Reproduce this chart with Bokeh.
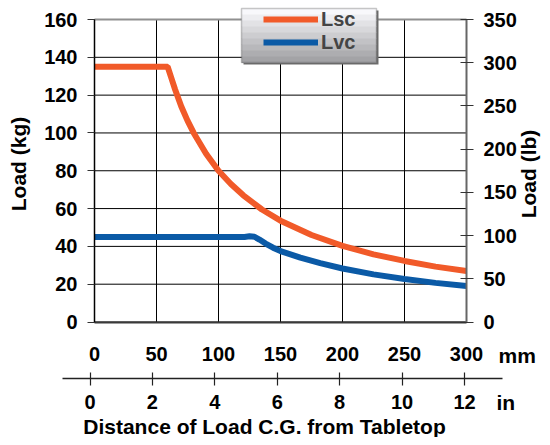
import math
from bokeh.plotting import figure
from bokeh.models import (LinearAxis, Range1d, Legend, LegendItem, Label, BoxAnnotation,
                          FixedTicker)
from bokeh.embed import file_html
from bokeh.resources import INLINE

# ---- data ----
lsc_mm = [0, 59, 62, 65, 70, 75, 80, 90, 100, 110, 120, 135, 150, 175, 200, 225, 250, 275, 300]
lsc_kg = [135, 135, 129, 123, 114, 106.5, 100, 89, 80, 73, 67, 59.5, 53.6, 46, 40.3, 35.8, 32.3, 29.3, 27]
lvc_mm = [0, 121, 125, 129, 133, 138, 144, 150, 166, 182, 200, 225, 250, 275, 300]
lvc_kg = [45, 45, 45.3, 45.1, 43.6, 41.5, 39.3, 37.5, 34.0, 31.1, 28.3, 25.2, 22.7, 20.7, 19.0]
mm_ticks = [0, 50, 100, 150, 200, 250, 300]
kg_ticks = [0, 20, 40, 60, 80, 100, 120, 140, 160]
lb_ticks = [0, 50, 100, 150, 200, 250, 300, 350]
in_ticks = [0, 2, 4, 6, 8, 10, 12]
series_names = ["Lsc", "Lvc"]
series_colors = ["#f15a29", "#0b5aa6"]

FONT = "Liberation Sans"
FS = "20px"
FS_T = "21px"

W, H = 542, 437
# pixel layout of the plot area inside the canvas
PX_L, PX_R, PX_T, PX_B = 94.0, 466.0, 19.0, 321.5
kpx = (PX_B - PX_T) / 160.0      # px per kg
mpx = (PX_R - PX_L) / 300.0      # px per mm
lpx = (PX_B - PX_T) / 350.0      # px per lb
in0, in12 = 89.5, 464.0
ipx = (in12 - in0) / 12.0        # px per inch (drawn scale of the reference)

p = figure(width=W, height=H,
           x_range=Range1d(-PX_L / mpx, (W - PX_L) / mpx),
           y_range=Range1d(-(H - PX_B) / kpx, PX_B / kpx),
           output_backend="svg", toolbar_location=None,
           min_border_left=0, min_border_right=0, min_border_top=0, min_border_bottom=0)
xa = p.below[0]
ya = p.left[0]
p.outline_line_color = None
p.background_fill_color = "white"
p.border_fill_color = "white"
p.grid.visible = False
p.extra_y_ranges = {"lb": Range1d(-(H - PX_B) / lpx, PX_B / lpx)}
p.extra_x_ranges = {"inch": Range1d(-in0 / ipx, (W - in0) / ipx)}

def style_axis(ax):
    ax.major_label_text_font = FONT
    ax.major_label_text_font_style = "bold"
    ax.major_label_text_font_size = FS
    ax.major_label_text_color = "black"
    ax.minor_tick_line_color = None

# grid lines (drawn from the tick arrays)
p.segment(x0=mm_ticks, y0=[kg_ticks[0]] * len(mm_ticks), x1=mm_ticks, y1=[kg_ticks[-1]] * len(mm_ticks),
          line_color="black", line_width=1)
p.segment(x0=[mm_ticks[0]] * len(kg_ticks), y0=kg_ticks, x1=[mm_ticks[-1]] * len(kg_ticks), y1=kg_ticks,
          line_color="black", line_width=1)

# series
r1 = p.line(lsc_mm, lsc_kg, line_color=series_colors[0], line_width=6)
r2 = p.line(lvc_mm, lvc_kg, line_color=series_colors[1], line_width=6)

# left axis (kg)
style_axis(ya)
ya.fixed_location = mm_ticks[0]
ya.bounds = (kg_ticks[0], kg_ticks[-1])
ya.ticker = FixedTicker(ticks=kg_ticks)
ya.axis_line_color = "black"
ya.axis_line_width = 1.5
ya.major_tick_in = 0
ya.major_tick_out = 7
ya.major_tick_line_color = "#333333"
ya.major_label_standoff = 10

# bottom axis (mm)
style_axis(xa)
xa.fixed_location = kg_ticks[0]
xa.bounds = (mm_ticks[0], mm_ticks[-1])
xa.ticker = FixedTicker(ticks=mm_ticks)
xa.axis_line_color = "#3a3a3a"
xa.axis_line_width = 2
xa.major_tick_in = 0
xa.major_tick_out = 0
xa.major_label_standoff = 25

# top border
ta = LinearAxis(fixed_location=kg_ticks[-1], bounds=(mm_ticks[0], mm_ticks[-1]))
ta.ticker = FixedTicker(ticks=[])
ta.major_label_text_color = None
ta.major_tick_line_color = None
ta.minor_tick_line_color = None
ta.axis_line_color = "#909090"
ta.axis_line_width = 2
p.add_layout(ta, "above")

# right axis (lb)
ra = LinearAxis(y_range_name="lb", fixed_location=mm_ticks[-1], bounds=(lb_ticks[0], lb_ticks[-1]))
style_axis(ra)
ra.ticker = FixedTicker(ticks=lb_ticks)
ra.axis_line_color = "#666666"
ra.axis_line_width = 2
ra.major_tick_in = 6
ra.major_tick_out = 7
ra.major_tick_line_color = "#333333"
ra.major_label_standoff = 10
p.add_layout(ra, "right")

# second bottom axis (in)
in_axis_y = -(378.0 - PX_B) / kpx
ia = LinearAxis(x_range_name="inch", fixed_location=in_axis_y,
                bounds=((62.0 - in0) / ipx, (502.0 - in0) / ipx))
style_axis(ia)
ia.ticker = FixedTicker(ticks=in_ticks)
ia.axis_line_color = "#222222"
ia.axis_line_width = 1.5
ia.major_tick_in = 6
ia.major_tick_out = 7
ia.major_tick_line_color = "#222222"
ia.major_tick_line_width = 1.2
ia.major_label_standoff = 9
p.add_layout(ia, "below")

# legend background (shadow + gradient strips + border), in canvas pixels
def sbox(l, r, t, b, **kw):
    p.add_layout(BoxAnnotation(left=l, right=r, top=H - t, bottom=H - b,
                               left_units="screen", right_units="screen",
                               top_units="screen", bottom_units="screen", **kw))

BL, BR, BT, BB = 241, 376, 8, 62
sbox(BL + 2, BR + 2, BT + 2, BB + 2, fill_color="#6e6e6e", fill_alpha=1, line_color=None)
n = 9
h = (BB - BT) / n
for i in range(n):
    c = int(248 - (248 - 163) * i / (n - 1))
    col = "#%02x%02x%02x" % (c, c, min(255, c + 3))
    sbox(BL, BR, BT + i * h, BT + (i + 1) * h + 0.6, fill_color=col, fill_alpha=1, line_color=None)
sbox(BL, BR, BT, BB, fill_alpha=0, line_color="#4a4a4a", line_width=1.5)

legend = Legend(items=[LegendItem(label=series_names[0], renderers=[r1]),
                       LegendItem(label=series_names[1], renderers=[r2])],
                location=(263, H - 53.5), glyph_width=55, glyph_height=18, label_height=18,
                label_standoff=3, padding=0, spacing=-6, margin=0,
                background_fill_alpha=0, border_line_color=None,
                label_text_font=FONT, label_text_font_style="bold", label_text_font_size=FS)
p.add_layout(legend, "center")

# texts: axis titles, unit names
def lab(x, y, text, align="left", angle=0.0):
    p.add_layout(Label(x=x, y=H - y, x_units="screen", y_units="screen", text=text,
                       angle=angle, text_align=align, text_baseline="middle", text_font=FONT,
                       text_font_style="bold", text_font_size=FS_T, text_color="black"))

lab(18, 163.5, "Load (kg)", align="center", angle=math.pi / 2)
lab(528, 173.5, "Load (lb)", align="center", angle=math.pi / 2)
lab(498, 355, "mm")
lab(496, 402, "in")
lab(264, 426, "Distance of Load C.G. from Tabletop", align="center")

open("out.html", "w").write(file_html(p, INLINE))
